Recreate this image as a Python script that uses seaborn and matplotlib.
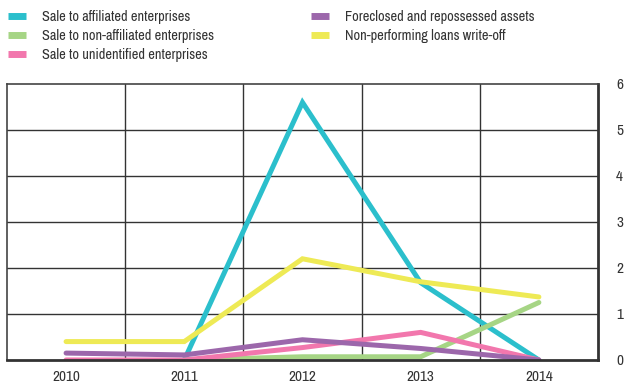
import numpy as np
import pandas as pd
import matplotlib
matplotlib.use("Agg")
import matplotlib.pyplot as plt
import seaborn as sns

years = ["2010", "2011", "2012", "2013", "2014"]
affiliated = [np.nan, 0.0, 5.6, 1.68, 0.0]
non_affiliated = [np.nan, 0.0, 0.07, 0.07, 1.25]
unidentified = [0.0, 0.0, 0.27, 0.6, 0.0]
foreclosed = [0.15, 0.11, 0.44, 0.25, 0.0]
write_off = [0.4, 0.4, 2.2, 1.7, 1.37]

series = {
    "Sale to affiliated enterprises": affiliated,
    "Sale to non-affiliated enterprises": non_affiliated,
    "Sale to unidentified enterprises": unidentified,
    "Foreclosed and repossessed assets": foreclosed,
    "Non-performing loans write-off": write_off,
}
colors = ["#2bbfcc", "#a6d585", "#f277ad", "#9c67ab", "#eeea55"]

rows = []
for name, vals in series.items():
    for i, v in enumerate(vals):
        rows.append({"x": i, "value": v, "series": name})
df = pd.DataFrame(rows)

sns.set_style("white")
plt.rcParams["font.family"] = ["Archivo Narrow", "Barlow Condensed", "DejaVu Sans"]

fig = plt.figure(figsize=(6.28, 3.86), dpi=100)
ax = fig.add_axes([0.0111, 0.0674, 0.9411, 0.715])

sns.lineplot(data=df, x="x", y="value", hue="series", palette=colors,
             linewidth=3.6, ax=ax, legend=False, solid_joinstyle="miter")

ax.set_xlim(-0.5, 4.5)
ax.set_ylim(0, 6)
ax.set_xticks(range(len(years)))
ax.set_xticklabels(years)
ax.set_yticks(range(7))
ax.yaxis.tick_right()
ax.tick_params(axis="both", length=0, labelsize=11, colors="#333333")
ax.tick_params(axis="y", pad=13)
ax.tick_params(axis="x", pad=7)
ax.set_xlabel("")
ax.set_ylabel("")

for xg in [0.5, 1.5, 2.5, 3.5]:
    ax.axvline(xg, color="#333333", lw=1.0, zorder=0)
for yg in range(1, 6):
    ax.axhline(yg, color="#333333", lw=1.0, zorder=0)

for side in ["left", "top"]:
    ax.spines[side].set_color("#444444")
    ax.spines[side].set_linewidth(1.2)
for side in ["right", "bottom"]:
    ax.spines[side].set_color("#333333")
    ax.spines[side].set_linewidth(2.0)

handles = [plt.Line2D([], [], color=c, lw=5, solid_capstyle="butt") for c in colors]
fig.legend(handles, list(series.keys()), loc="upper left",
           bbox_to_anchor=(0.006, 0.986), ncol=2, frameon=False,
           borderaxespad=0.0, borderpad=0.3,
           fontsize=10.3, handlelength=1.25, handletextpad=1.1,
           columnspacing=6.8, labelspacing=0.37, labelcolor="#333333")

fig.savefig("out.png", dpi=100)
